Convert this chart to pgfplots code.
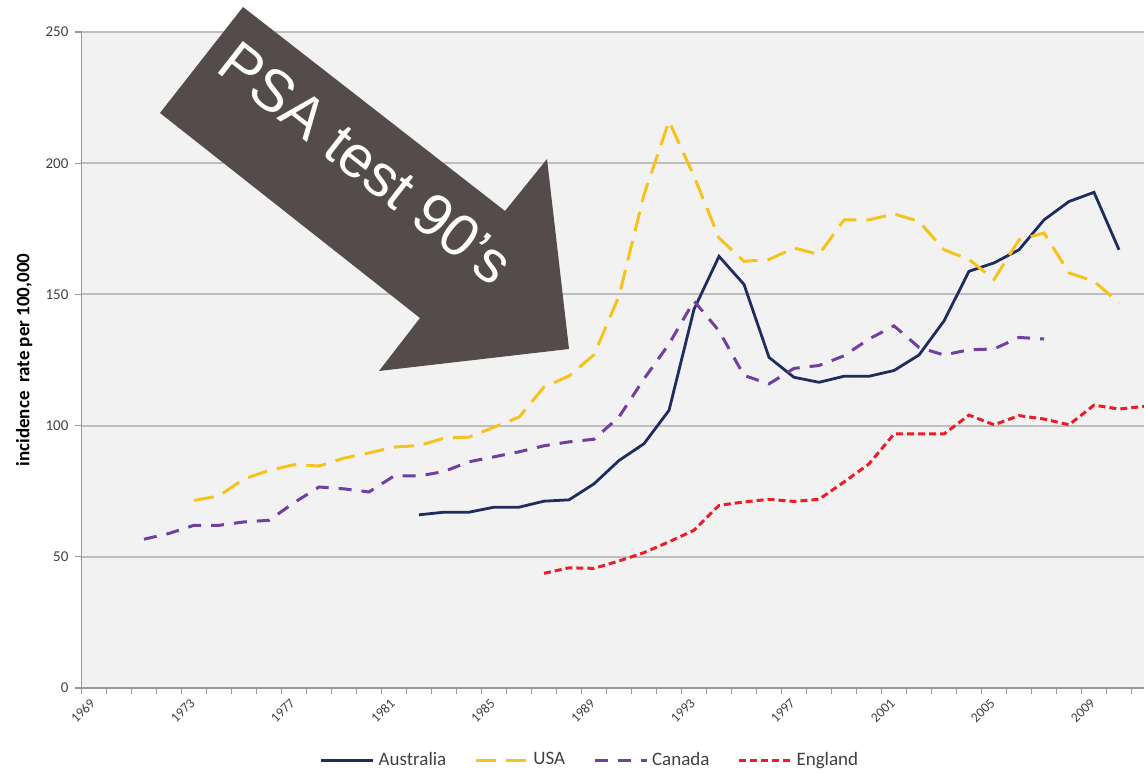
\documentclass[border=0pt]{standalone}
\usepackage{fontspec}
\setmainfont{Carlito}
\newfontfamily\arialfont{Liberation Sans}
\usepackage{pgfplots}
\usepackage{pgfplotstable}
\pgfplotsset{compat=1.18}
\definecolor{navy}{RGB}{31,45,94}
\definecolor{gold}{RGB}{245,195,30}
\definecolor{purp}{RGB}{112,64,160}
\definecolor{eng}{RGB}{235,30,40}
\definecolor{arrowc}{RGB}{83,76,74}
\definecolor{gridc}{RGB}{190,190,190}
\definecolor{plotbg}{RGB}{242,242,242}
\definecolor{ticktext}{RGB}{64,64,64}

\pgfplotstableread{
year val
1982 66.0
1983 67.0
1984 67.0
1985 68.9
1986 68.9
1987 71.2
1988 71.7
1989 77.8
1990 86.7
1991 93.1
1992 105.8
1993 144.3
1994 164.5
1995 153.8
1996 126.0
1997 118.4
1998 116.5
1999 118.8
2000 118.8
2001 121.0
2002 126.9
2003 139.9
2004 158.8
2005 162.0
2006 167.0
2007 178.4
2008 185.4
2009 188.9
2010 167.0
}\australia

\pgfplotstableread{
year val
1973 71.5
1974 73.2
1975 79.7
1976 82.9
1977 85.1
1978 84.6
1979 87.6
1980 89.6
1981 91.8
1982 92.4
1983 95.2
1984 95.6
1985 99.4
1986 103.2
1987 114.7
1988 118.9
1989 127.0
1990 149.4
1991 188.0
1992 216.0
1993 195.0
1994 171.5
1995 162.6
1996 163.3
1997 167.7
1998 165.2
1999 178.4
2000 178.4
2001 180.7
2002 177.8
2003 167.0
2004 163.3
2005 155.7
2006 170.8
2007 173.4
2008 158.2
2009 155.0
2010 146.8
}\usa

\pgfplotstableread{
year val
1971 56.7
1972 58.9
1973 62.0
1974 62.0
1975 63.3
1976 63.9
1977 70.6
1978 76.6
1979 75.9
1980 74.7
1981 80.8
1982 80.8
1983 82.5
1984 86.2
1985 88.1
1986 90.0
1987 92.3
1988 93.8
1989 94.8
1990 103.3
1991 117.8
1992 131.1
1993 147.5
1994 136.1
1995 119.1
1996 115.9
1997 121.8
1998 122.9
1999 126.6
2000 133.0
2001 138.0
2002 129.8
2003 126.9
2004 128.9
2005 129.2
2006 133.6
2007 133.0
}\canada

\pgfplotstableread{
year val
1987 43.7
1988 45.8
1989 45.6
1990 48.4
1991 51.6
1992 55.7
1993 60.1
1994 69.6
1995 70.9
1996 71.9
1997 71.1
1998 71.9
1999 78.5
2000 85.4
2001 96.8
2002 96.8
2003 96.8
2004 104.0
2005 100.3
2006 103.8
2007 102.5
2008 100.3
2009 107.8
2010 106.3
2011 107.3
}\england

\begin{document}
\begin{tikzpicture}
\useasboundingbox (0,0) rectangle (572pt,387.5pt);
\begin{axis}[
  at={(40.75pt,43.5pt)}, anchor=south west,
  scale only axis, width=531.25pt, height=328pt,
  xmin=1968.5, xmax=2011, ymin=0, ymax=250,
  axis background/.style={fill=plotbg},
  axis lines*=left,
  axis line style={draw=gray!80, line width=0.8pt},
  ytick={0,50,...,250},
  ymajorgrids,
  grid style={gridc, line width=1pt},
  xtick={1969,1973,...,2009},
  xticklabels={1969,1973,1977,1981,1985,1989,1993,1997,2001,2005,2009},
  xtick style={draw=none},
  minor xtick={1968.5,1969.5,...,2010.5},
  minor x tick style={draw=gray!80, line width=0.6pt},
  minor tick length=3pt,
  ytick style={draw=gray!80, line width=0.6pt},
  major tick length=3pt,
  tick align=outside,
  /pgf/number format/assume math mode=true,
  /pgf/number format/1000 sep={},
  yticklabel style={font=\fontsize{7.5}{8}\selectfont, text=ticktext},
  xticklabel style={font=\fontsize{6.8}{7}\selectfont, text=ticktext, rotate=45, anchor=east, yshift=-2pt, xshift=0.5pt},
  ylabel={\textbf{incidence\ \ rate per 100,000}},
  every axis y label/.style={at={(axis description cs:-0.054,0.5)}, rotate=90, anchor=center, font=\fontsize{9.5}{10}\selectfont},
  legend style={draw=none, fill=none, legend columns=4, at={(axis description cs:0.4795,-0.110)}, anchor=center,
    font=\fontsize{9.5}{10}\selectfont, text=ticktext, inner sep=0pt,
    /tikz/every even column/.append style={column sep=12pt}},
  legend image code/.code={\draw[#1] (0pt,0pt) -- (26pt,0pt);},
]
\addplot[navy, line width=1.4pt] table[x=year,y=val]{\australia};
\addlegendentry{Australia}
\addplot[gold, line width=1.5pt, dash pattern=on 10pt off 5pt] table[x=year,y=val]{\usa};
\addlegendentry{USA}
\addplot[purp, line width=1.5pt, dash pattern=on 6.5pt off 5pt] table[x=year,y=val]{\canada};
\addlegendentry{Canada}
\addplot[eng, line width=1.5pt, dash pattern=on 3.5pt off 2pt] table[x=year,y=val]{\england};
\addlegendentry{England}
\end{axis}
\fill[arrowc] (121.5pt,384pt) -- (252.5pt,282pt) -- (273.5pt,308pt) -- (284.5pt,213pt) -- (189.5pt,202pt) -- (210pt,228.5pt) -- (80pt,331pt) -- cycle;
\node[text=white, rotate=-38, font=\arialfont\fontsize{29.5}{30}\selectfont, inner sep=0pt] at (183pt,306pt) {PSA test 90’s};
\end{tikzpicture}
\end{document}
